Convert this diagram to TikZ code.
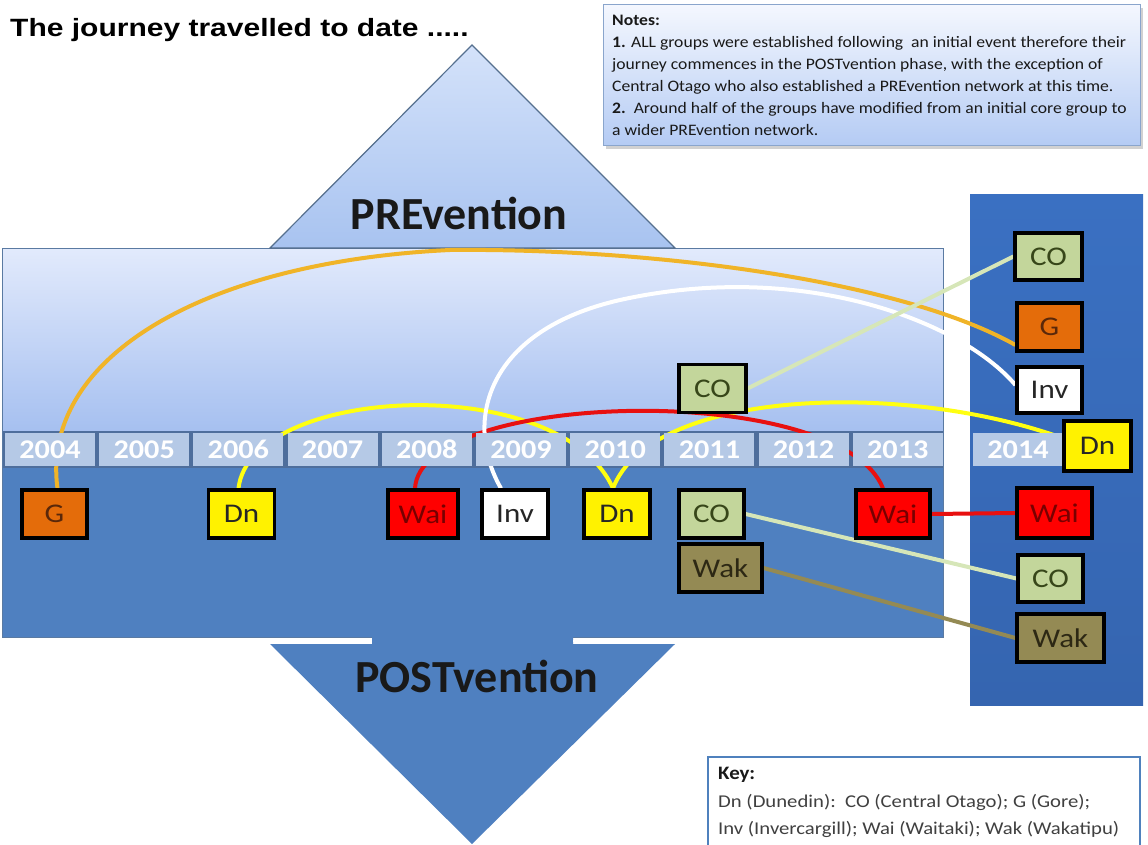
\documentclass[tikz,border=0pt]{standalone}
\usepackage{fontspec}
\usepackage{graphicx}
\setmainfont{Carlito}
\newfontfamily\arialf{Liberation Sans}
\newcommand{\myhs}[2]{\scalebox{#1}[1]{#2}}
\definecolor{uptop}{HTML}{E2EAFC}
\definecolor{upbot}{HTML}{A6C0F0}
\definecolor{stripdark}{HTML}{4E6E9C}
\definecolor{lowblue}{HTML}{4F80C0}
\definecolor{rectborder}{HTML}{5A7AA2}
\definecolor{cellblue}{HTML}{B5C9E6}
\definecolor{tritop}{HTML}{D4E2FA}
\definecolor{tribot}{HTML}{A8C3F0}
\definecolor{triborder}{HTML}{56708F}
\definecolor{coltop}{HTML}{3A70C2}
\definecolor{colbot}{HTML}{3565B0}
\definecolor{notestop}{HTML}{F4F7FE}
\definecolor{notesbot}{HTML}{B4CBF4}
\definecolor{notesborder}{HTML}{8AA5CC}
\definecolor{keyborder}{HTML}{4F81BD}
\definecolor{gorange}{HTML}{E46C0A}
\definecolor{coolive}{HTML}{C3D69B}
\definecolor{wakolive}{HTML}{948A54}
\definecolor{goldline}{HTML}{F0B428}
\definecolor{yelline}{HTML}{FFFF10}
\definecolor{redline}{HTML}{E81010}
\definecolor{coline}{HTML}{D6E6B8}
\definecolor{wakline}{HTML}{948A54}
\definecolor{gtext}{HTML}{5A280A}
\definecolor{waitext}{HTML}{780000}
\definecolor{cotext}{HTML}{374619}
\definecolor{waktext}{HTML}{2D2814}
\pgfdeclarelayer{bg}
\pgfdeclarelayer{lines}
\pgfsetlayers{bg,lines,main}
\begin{document}
\begin{tikzpicture}[x=1pt,y=-1pt,
  box/.style={draw=black, line width=3.2pt, minimum width=66pt, minimum height=48pt,
    inner sep=0pt, font=\fontsize{27}{27}\selectfont, text=black!85},
  yearcell/.style={fill=cellblue, minimum width=90pt, minimum height=33pt, inner sep=0pt,
    text=white, font=\bfseries\fontsize{27}{27}\selectfont},
  conn/.style={line width=4pt},
  big/.style={font=\bfseries\fontsize{46}{46}\selectfont, text=black!90},
]
\useasboundingbox (0,0) rectangle (1148,845);

\begin{pgfonlayer}{bg}
% main rectangle
\fill[top color=uptop, bottom color=upbot] (2,248) rectangle (943,431);
\fill[stripdark] (2,431) rectangle (943,468);
\fill[lowblue] (2,468) rectangle (943,637);
\draw[rectborder, line width=1pt] (2,248) rectangle (943,637);
% PREvention triangle
\filldraw[top color=tritop, bottom color=tribot, draw=triborder, line width=1.2pt]
  (472,45) -- (675,248) -- (270,248) -- cycle;
% POSTvention triangle
\fill[lowblue] (270,644) -- (372,644) -- (372,636) -- (573,636) -- (573,644) -- (675,644) -- (472,844) -- cycle;
\draw[white, line width=2.5pt] (270,641) -- (372,641) (573,641) -- (675,641);
% 2014 column
\fill[top color=coltop, bottom color=colbot] (970,195) rectangle (1143,705);
% notes box
\fill[black!18] (606,8) rectangle (1143,149);
\filldraw[top color=notestop, bottom color=notesbot, draw=notesborder, line width=1pt]
  (603,5) rectangle (1140,146);
% key box
\filldraw[fill=white, draw=keyborder, line width=2pt] (708,757) rectangle (1140,846);
\end{pgfonlayer}

% year cells
\foreach \i/\yr in {0/2004,1/2005,2/2006,3/2007,4/2008,5/2009,6/2010,7/2011,8/2012,9/2013}
  \node[yearcell] (y\yr) at ({50+94.2*\i},449.5) {\myhs{1.12}{\yr}};
\node[yearcell] (y2014) at (1018,449.5) {\myhs{1.12}{2014}};

% titles
\node[anchor=west, inner sep=0pt, font=\arialf\bfseries\fontsize{25}{25}\selectfont] (title) at (10,30) {\myhs{1.2}{The journey travelled to date .....}};
\node[big] (pre) at (459,213) {PREvention};
\node[big] (post) at (477,676) {POSTvention};

% notes text
\node[anchor=north west, inner sep=0pt, text=black!90] (notes) at (612,9.6)
 {\myhs{1.1}{\fontsize{16}{22}\selectfont\begin{tabular}{@{}l@{}}
  \textbf{Notes:}\\
  \textbf{1.} ALL groups were established following\ \ an initial event therefore their\\
  journey commences in the POSTvention phase, with the exception of\\
  Central Otago who also established a PREvention network at this time.\\
  \textbf{2.}\ \ Around half of the groups have modified from an initial core group to\\
  a wider PREvention network.
  \end{tabular}}};

% key text
\node[anchor=west, inner sep=0pt, font=\bfseries\fontsize{19}{19}\selectfont, text=black!90] (keyt) at (718,775) {\myhs{1.1}{Key:}};
\node[anchor=north west, inner sep=0pt, text=black!75] (keyl) at (718,788)
 {\myhs{1.15}{\fontsize{18}{27}\selectfont\begin{tabular}{@{}l@{}}
  Dn (Dunedin):\ \ CO (Central Otago); G (Gore);\\
  Inv (Invercargill); Wai (Waitaki); Wak (Wakatipu)
  \end{tabular}}};

% boxes
\node[box, fill=gorange, minimum width=65pt, text=gtext] (g1) at (54.5,514) {\myhs{1.15}{G}};
\node[box, fill=yellow] (dn1) at (241.5,514) {\myhs{1.15}{Dn}};
\node[box, fill=red, minimum width=70pt, text=waitext] (wai1) at (423,514) {\myhs{1.15}{Wai}};
\node[box, fill=white] (inv1) at (515,514) {\myhs{1.15}{Inv}};
\node[box, fill=yellow] (dn2) at (617,514) {\myhs{1.15}{Dn}};
\node[box, fill=coolive, minimum width=65pt, text=cotext] (co2) at (711.5,514) {\myhs{1.15}{CO}};
\node[box, fill=red, minimum width=74pt, text=waitext] (wai2) at (893,514) {\myhs{1.15}{Wai}};
\node[box, fill=wakolive, minimum width=83pt, text=waktext] (wak1) at (720.5,568) {\myhs{1.15}{Wak}};
\node[box, fill=coolive, minimum width=67pt, text=cotext] (co1) at (712.5,388.5) {\myhs{1.15}{CO}};
\node[box, fill=coolive, minimum width=67pt, minimum height=47pt, text=cotext] (cor1) at (1048.5,256.5) {\myhs{1.15}{CO}};
\node[box, fill=gorange, minimum width=65pt, text=gtext] (g2) at (1049.5,327) {\myhs{1.15}{G}};
\node[box, fill=white, minimum width=65pt, minimum height=46pt] (inv2) at (1049.5,390) {\myhs{1.15}{Inv}};
\node[box, fill=yellow, minimum width=67pt, minimum height=50pt] (dn3) at (1097.5,446) {\myhs{1.15}{Dn}};
\node[box, fill=red, minimum width=75pt, minimum height=50pt, text=waitext] (wai3) at (1054.5,513) {\myhs{1.15}{Wai}};
\node[box, fill=coolive, minimum width=65pt, minimum height=47pt, text=cotext] (cor2) at (1050.5,578.5) {\myhs{1.15}{CO}};
\node[box, fill=wakolive, minimum width=87pt, text=waktext] (wakr) at (1060.5,638) {\myhs{1.15}{Wak}};

% connectors
\begin{pgfonlayer}{lines}
\draw[conn, goldline] ([xshift=3pt]g1.north) .. controls (40,360) and (200,262) .. (450,250)
  .. controls (650,248) and (900,280) .. ([yshift=-18pt]g2.west);
\draw[conn, yelline] ([xshift=-3pt]dn1.north) .. controls (250,385) and (560,370) .. ([xshift=-4pt]dn2.north);
\draw[conn, yelline] ([xshift=-4pt]dn2.north) .. controls (650,390) and (900,380) .. ([yshift=8pt]dn3.west);
\draw[conn, redline] ([xshift=-8pt]wai1.north) .. controls (420,390) and (840,380) .. ([xshift=-10pt]wai2.north);
\draw[conn, redline] (wai2.east) -- (wai3.west);
\draw[conn, white] ([xshift=-14pt]inv1.north) .. controls (462,420) and (488,330) .. (620,300)
  .. controls (800,260) and (960,320) .. ([yshift=5pt]inv2.west);
\draw[conn, coline] (co1.east) -- (cor1.west);
\draw[conn, coline] (co2.east) -- (cor2.west);
\draw[conn, wakline] (wak1.east) -- (wakr.west);
\end{pgfonlayer}
\end{tikzpicture}
\end{document}
